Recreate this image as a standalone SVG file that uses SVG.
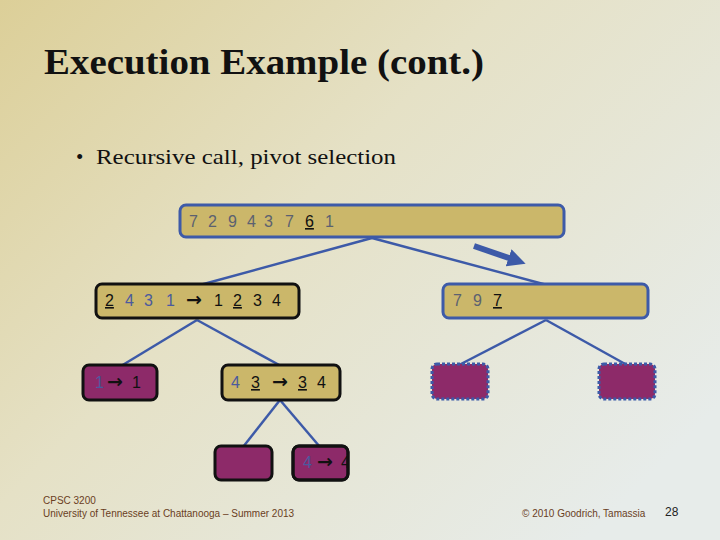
<svg xmlns="http://www.w3.org/2000/svg" width="720" height="540" viewBox="0 0 720 540">
<defs>
<linearGradient id="bg" x1="0" y1="0" x2="1" y2="0.75">
<stop offset="0" stop-color="#dccf98"/>
<stop offset="0.45" stop-color="#e5e1c6"/>
<stop offset="1" stop-color="#e7ecea"/>
</linearGradient>
<marker id="ah" viewBox="0 0 10 10" refX="2" refY="5" markerWidth="3" markerHeight="3" orient="auto" markerUnits="strokeWidth">
<path d="M0,0 L10,5 L0,10 Z" fill="#3d5aa8"/>
</marker>
<clipPath id="clip4"><rect x="293" y="446" width="55" height="34" rx="6"/></clipPath>
<style>
.gold{fill:#cbb76a}
.purple{fill:#8d2a69}
.bs{stroke:#3d5aa8;stroke-width:3}
.ks{stroke:#111;stroke-width:3}
.ds{stroke:#3d5aa8;stroke-width:3;stroke-dasharray:3 2}
.conn{stroke:#3d5aa8;stroke-width:2.5;fill:none}
.t{font-family:"Liberation Sans",Arial,sans-serif;font-size:16px}
.ar{font-family:"DejaVu Sans",sans-serif;font-weight:bold;font-size:19px;fill:#111}
.g{fill:#5b6170}
.b{fill:#4a5a9e}
.k{fill:#111}
.u{text-decoration:underline}
.ft{font-family:"Liberation Sans",Arial,sans-serif;font-size:10px;fill:#6a3e1e}
</style>
</defs>
<rect width="720" height="540" fill="url(#bg)"/>
<text x="44" y="74" font-family="'Liberation Serif','DejaVu Serif',serif" font-weight="bold" font-size="35" fill="#111" textLength="440" lengthAdjust="spacingAndGlyphs">Execution Example (cont.)</text>
<text x="76" y="164" font-family="'Liberation Serif','DejaVu Serif',serif" font-size="21" fill="#111">•</text>
<text x="96" y="164" font-family="'Liberation Serif','DejaVu Serif',serif" font-size="21" fill="#111" textLength="300" lengthAdjust="spacingAndGlyphs">Recursive call, pivot selection</text>

<g id="connectors">
<line class="conn" x1="372" y1="238" x2="200" y2="285"/>
<line class="conn" x1="372" y1="238" x2="547" y2="285"/>
<line class="conn" x1="197" y1="320" x2="121" y2="366"/>
<line class="conn" x1="197" y1="320" x2="281" y2="366"/>
<line class="conn" x1="546" y1="320" x2="459" y2="365"/>
<line class="conn" x1="546" y1="320" x2="627" y2="365"/>
<line class="conn" x1="280" y1="400" x2="243" y2="447"/>
<line class="conn" x1="280" y1="400" x2="320" y2="447"/>
<line x1="474" y1="246" x2="512" y2="259" stroke="#3d5aa8" stroke-width="6" marker-end="url(#ah)"/>
</g>

<g id="root">
<rect class="gold bs" x="180" y="205" width="384" height="32" rx="6"/>
<text class="t g" y="227"><tspan x="189">7</tspan><tspan x="208">2</tspan><tspan x="228">9</tspan><tspan x="247">4</tspan><tspan x="264">3</tspan><tspan x="285">7</tspan><tspan x="305" class="k u">6</tspan><tspan x="325">1</tspan></text>
</g>

<g id="left">
<rect class="gold ks" x="96" y="284" width="203" height="34" rx="6"/>
<text class="t" y="306"><tspan x="105" class="k u">2</tspan><tspan x="125" class="b">4</tspan><tspan x="144" class="b">3</tspan><tspan x="166" class="b">1</tspan></text>
<text class="ar" x="186" y="306">→</text>
<text class="t" y="306"><tspan x="214" class="k">1</tspan><tspan x="233" class="k u">2</tspan><tspan x="253" class="k">3</tspan><tspan x="272" class="k">4</tspan></text>
</g>

<g id="right">
<rect class="gold bs" x="443" y="284" width="205" height="34" rx="6"/>
<text class="t" y="306"><tspan x="453" class="g">7</tspan><tspan x="473" class="g">9</tspan><tspan x="493" class="k u">7</tspan></text>
</g>

<g id="ll">
<rect class="purple ks" x="83" y="365" width="74" height="35" rx="6"/>
<text class="t b" x="95" y="388">1</text>
<text class="ar" x="107" y="388">→</text>
<text class="t k" x="132" y="388">1</text>
</g>

<g id="lr">
<rect class="gold ks" x="222" y="365" width="118" height="35" rx="6"/>
<text class="t" y="388"><tspan x="231" class="b">4</tspan><tspan x="251" class="k u">3</tspan></text>
<text class="ar" x="272" y="388">→</text>
<text class="t" y="388"><tspan x="298" class="k u">3</tspan><tspan x="317" class="k">4</tspan></text>
</g>

<g id="rl">
<rect class="purple ds" x="432" y="364" width="56" height="35" rx="5"/>
</g>
<g id="rr">
<rect class="purple ds" x="599" y="364" width="56" height="35" rx="5"/>
</g>

<g id="lrl">
<rect class="purple ks" x="215" y="446" width="57" height="34" rx="6"/>
</g>
<g id="lrr">
<rect class="purple ks" x="293" y="446" width="55" height="34" rx="6"/>
<g clip-path="url(#clip4)">
<text class="t b" x="303" y="468">4</text>
<text class="ar" x="317" y="468">→</text>
<text class="t k" x="341" y="468">4</text>
</g>
<rect x="293" y="446" width="55" height="34" rx="6" fill="none" class="ks"/>
</g>

<text class="ft" x="43" y="504">CPSC 3200</text>
<text class="ft" x="43" y="517">University of Tennessee at Chattanooga – Summer 2013</text>
<text class="ft" x="522" y="517">© 2010 Goodrich, Tamassia</text>
<text x="665" y="516" font-family="'Liberation Sans',Arial,sans-serif" font-size="12" fill="#222">28</text>
</svg>
